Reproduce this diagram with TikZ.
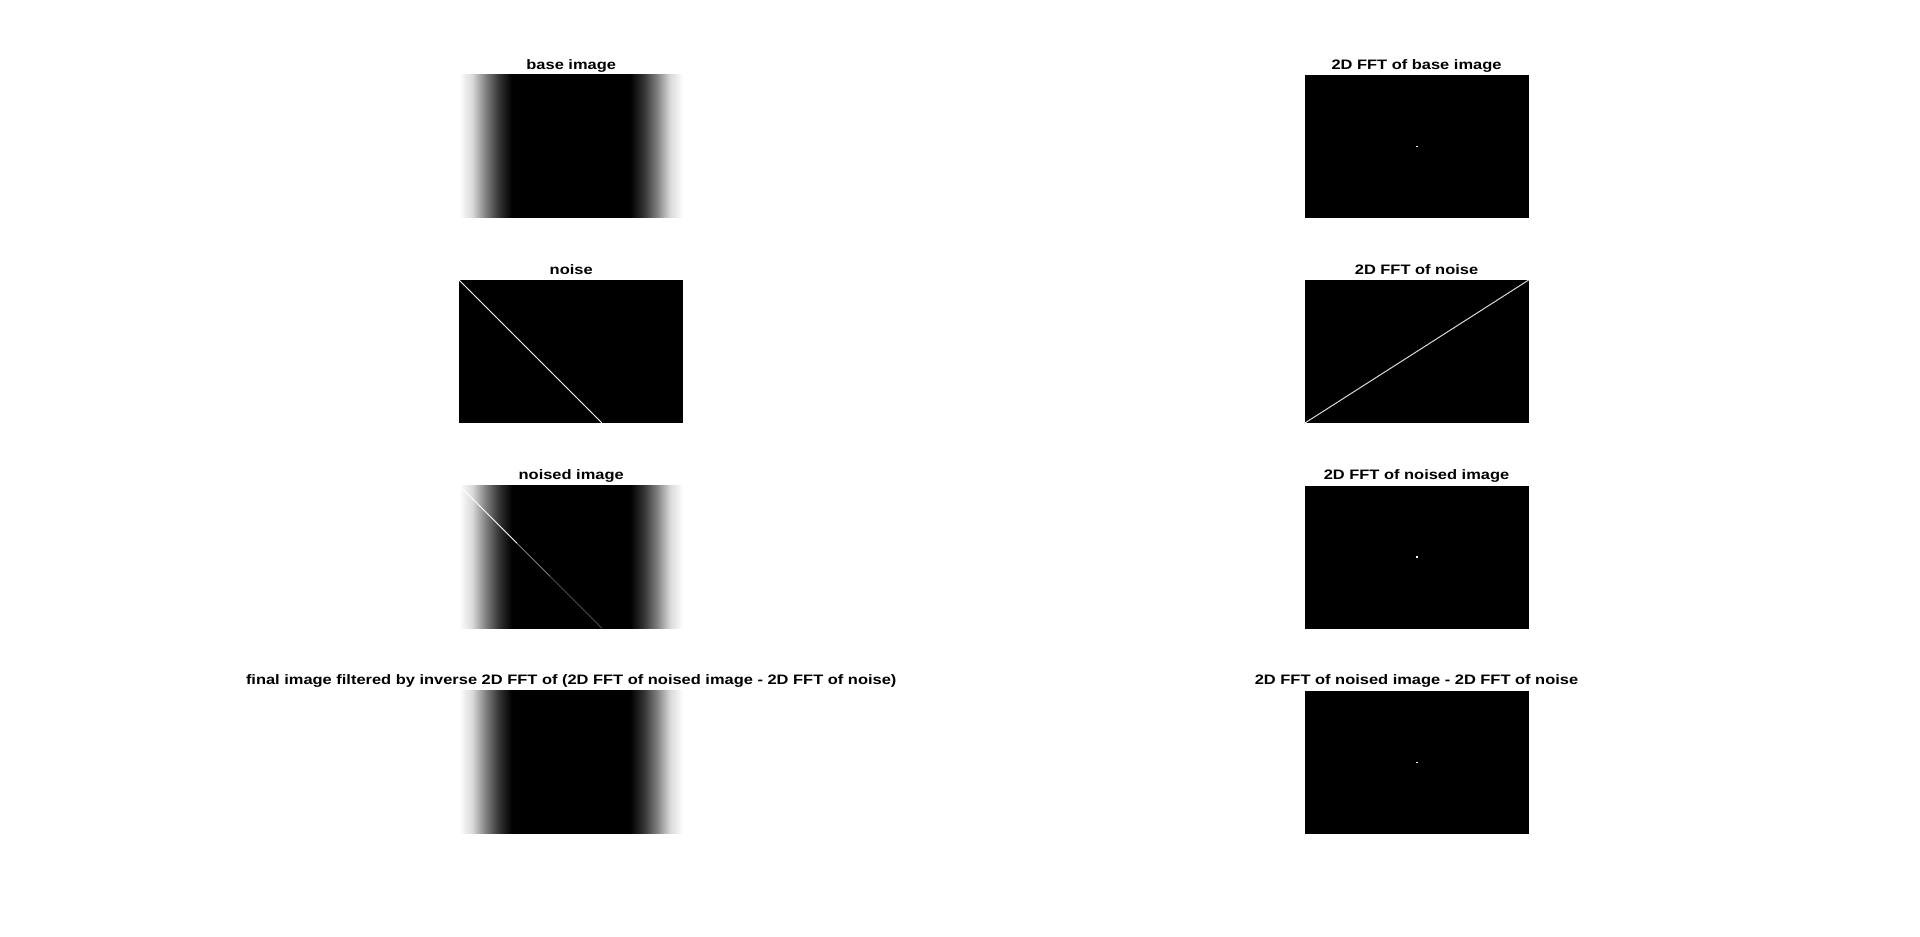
\documentclass[tikz,border=0pt]{standalone}
\usepackage{fontspec}
\setmainfont{Liberation Sans}
\newfontfamily\titlefont[FakeStretch=1.2]{Liberation Sans}
\usetikzlibrary{matrix,positioning}
\pgfdeclarehorizontalshading{band}{100bp}{color(0bp)=(white); color(25bp)=(white);
  color(27.96bp)=(black!15); color(30.9bp)=(black!50); color(33.87bp)=(black!80);
  color(36.83bp)=(black); color(63.17bp)=(black); color(66.13bp)=(black!80);
  color(69.1bp)=(black!50); color(72.04bp)=(black!15); color(75bp)=(white); color(100bp)=(white)}
\tikzset{imgband/.style={shading=band}}
\tikzset{fdot/.style={fill=white,inner sep=0pt,minimum width=2pt,minimum height=1.5pt}}

\begin{document}
\begin{tikzpicture}[x=1pt,y=-1pt]

\tikzstyle{lab}=[anchor=base,yshift=5.7pt,inner sep=0pt,
                 font=\titlefont\bfseries\fontsize{13.7}{16}\selectfont]

\useasboundingbox (0,0) rectangle (1920,937);

  \matrix (m) at (459,74.7)
 [matrix of nodes,
  anchor=north west,
  inner sep=0pt,
  column sep=621.3pt,
  row sep=62.3pt,
  nodes in empty cells,
  nodes={fill=black,
         inner sep=0pt,
         minimum width=224pt,
         minimum height=143pt}]
 {
    |[imgband]| & \\
                & \\
    |[imgband]| & \\
    |[imgband]| & \\
 };

 % titles
 \node[lab] (t11) at (m-1-1.north) {base image};
 \node[lab] (t12) at (m-1-2.north) {2D FFT of base image};
 \node[lab] (t21) at (m-2-1.north) {noise};
 \node[lab] (t22) at (m-2-2.north) {2D FFT of noise};
 \node[lab] (t31) at (m-3-1.north) {noised image};
 \node[lab] (t32) at (m-3-2.north) {2D FFT of noised image};
 \node[lab] (t41) at (m-4-1.north)
       {final image filtered by inverse 2D FFT of (2D FFT of noised image - 2D FFT of noise)};
 \node[lab] (t42) at (m-4-2.north) {2D FFT of noised image - 2D FFT of noise};

 % noise lines
 \draw[white,line width=1pt] (m-2-1.north west) -- ++(142.7,142.7);
 \draw[white!85!black,line width=1pt] (m-2-2.south west) -- (m-2-2.north east);
 \draw[white,line width=0.9pt] (m-3-1.north west) -- ++(58,58) coordinate (n1);
 \draw[black!50,line width=0.9pt] (n1) -- ++(33,33) coordinate (n2);
 \draw[black!70,line width=0.9pt] (n2) -- ++(52,52);

 % centre peaks
 \node[fdot] (d1) at (m-1-2.center) {};
 \node[fdot] (d3) at (m-3-2.center) {};
 \node[fdot] (d4) at (m-4-2.center) {};

\end{tikzpicture}
\end{document}
